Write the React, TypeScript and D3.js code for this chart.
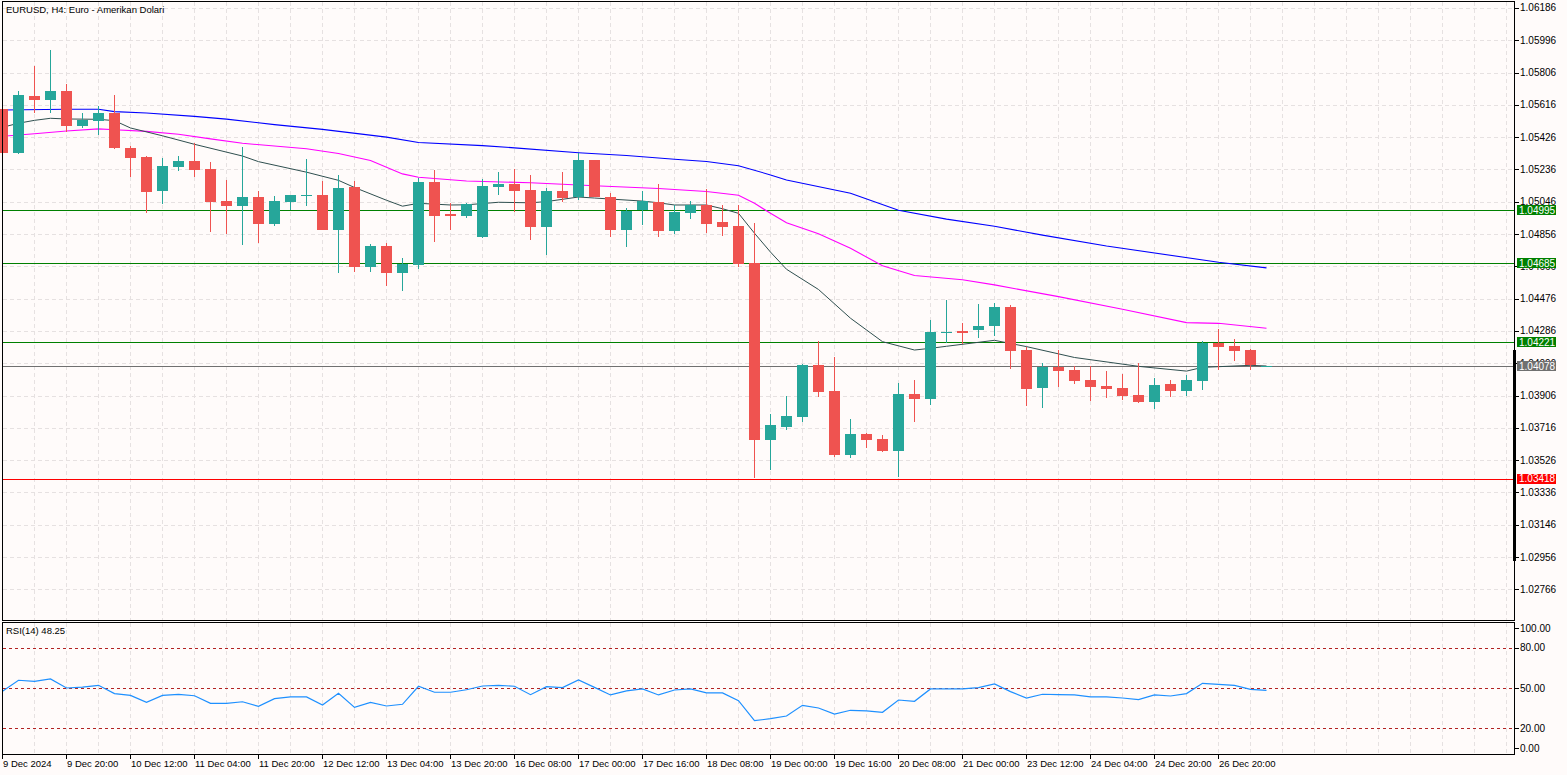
import React from 'react';
import * as d3 from 'd3';

const W = 1567;
const H = 775;

// EURUSD H4 candles
const opens = [
  1.05592, 1.05335, 1.05668, 1.05647, 1.057, 1.05494, 1.05523, 1.0557, 1.05364, 1.05311,
  1.05111, 1.05253, 1.05286, 1.05239, 1.05051, 1.05023, 1.05074, 1.04917, 1.05047, 1.05084,
  1.05086, 1.04882, 1.05133, 1.04664, 1.04786, 1.04629, 1.04676, 1.05163, 1.04974, 1.04962,
  1.04839, 1.05135, 1.05151, 1.05115, 1.04898, 1.05109, 1.05074, 1.05292, 1.05074, 1.0488,
  1.04996, 1.05045, 1.04874, 1.0498, 1.05027, 1.04927, 1.04904, 1.04688, 1.03645, 1.03721,
  1.0378, 1.04084, 1.03935, 1.03555, 1.0368, 1.03651, 1.0358, 1.03915, 1.03886, 1.04278,
  1.04286, 1.04292, 1.04317, 1.04427, 1.04174, 1.03952, 1.04072, 1.04056, 1.03998, 1.03962,
  1.03951, 1.0391, 1.0387, 1.03974, 1.03935, 1.03993, 1.04215, 1.04198, 1.04174, 1.04074,
];
const highs = [
  1.0561, 1.057, 1.05847, 1.05939, 1.05739, 1.0557, 1.0561, 1.05674, 1.05376, 1.05317,
  1.05304, 1.05317, 1.0539, 1.05278, 1.05174, 1.05368, 1.05109, 1.0508, 1.05086, 1.05298,
  1.0517, 1.05204, 1.0517, 1.04798, 1.04804, 1.04717, 1.05188, 1.05233, 1.05039, 1.05039,
  1.0518, 1.05221, 1.05239, 1.05204, 1.05127, 1.05221, 1.05335, 1.05292, 1.05098, 1.05009,
  1.05109, 1.05151, 1.05027, 1.05051, 1.05121, 1.05027, 1.05027, 1.04923, 1.03798, 1.03904,
  1.04092, 1.04225, 1.04135, 1.03768, 1.03686, 1.03674, 1.0398, 1.03998, 1.04351, 1.0447,
  1.04333, 1.04445, 1.04452, 1.04439, 1.04192, 1.04098, 1.04174, 1.0408, 1.0408, 1.04052,
  1.04033, 1.04098, 1.04009, 1.03998, 1.04027, 1.04225, 1.04298, 1.04239, 1.0418, 1.0408,
];
const lows = [
  1.05321, 1.05327, 1.05568, 1.0557, 1.05458, 1.05482, 1.05441, 1.05358, 1.05194, 1.04978,
  1.05035, 1.05229, 1.05194, 1.0487, 1.04858, 1.04794, 1.04806, 1.04905, 1.05, 1.05023,
  1.0488, 1.04629, 1.04635, 1.04635, 1.04553, 1.04523, 1.04652, 1.04811, 1.0488, 1.04953,
  1.04835, 1.05086, 1.04986, 1.04821, 1.04733, 1.05045, 1.05057, 1.05074, 1.04839, 1.0478,
  1.04909, 1.04839, 1.04857, 1.04945, 1.04862, 1.04845, 1.04662, 1.0342, 1.03468, 1.03704,
  1.03751, 1.03898, 1.03545, 1.03539, 1.03598, 1.03574, 1.03425, 1.03751, 1.03851, 1.04215,
  1.04209, 1.04245, 1.04258, 1.04064, 1.03847, 1.03835, 1.03958, 1.03976, 1.03876, 1.03894,
  1.03882, 1.03864, 1.03829, 1.039, 1.03906, 1.03941, 1.04058, 1.04111, 1.04058, 1.04074,
];
const closes = [
  1.05333, 1.05674, 1.05647, 1.057, 1.05494, 1.05527, 1.0557, 1.05364, 1.05305, 1.05105,
  1.05257, 1.05286, 1.05235, 1.05047, 1.05023, 1.05074, 1.04917, 1.05051, 1.05086, 1.05086,
  1.04882, 1.05127, 1.04664, 1.04786, 1.04629, 1.0468, 1.05163, 1.04964, 1.04962, 1.05033,
  1.05139, 1.05151, 1.05109, 1.04898, 1.05109, 1.05068, 1.05292, 1.05074, 1.0488, 1.04992,
  1.05051, 1.04874, 1.04986, 1.05027, 1.04915, 1.04898, 1.0468, 1.03645, 1.03733, 1.03786,
  1.04084, 1.03927, 1.03555, 1.0368, 1.03645, 1.0358, 1.03915, 1.03886, 1.0428, 1.0428,
  1.04274, 1.04317, 1.04429, 1.0417, 1.03946, 1.04072, 1.04052, 1.03993, 1.03958, 1.03946,
  1.03906, 1.0387, 1.03968, 1.03935, 1.03998, 1.04215, 1.04194, 1.0417, 1.04084, 1.04078,
];

// RSI(14), one value per bar
const rsi = [
  47.5, 55.8, 55, 56.8, 50, 50.7, 52, 45.8, 44.5, 39.2,
  44.5, 45.2, 44.2, 38.5, 38.5, 39.7, 36.2, 42, 43.3, 43.3,
  37.2, 46, 35.5, 39.2, 36.5, 37.8, 51.3, 46.8, 46.8, 48.7,
  51.5, 52, 51.3, 45, 51, 50.3, 56, 50.5, 44.8, 47.8,
  49.3, 44.8, 48.5, 49.3, 46.3, 46.3, 40.5, 25.5, 27, 29,
  37, 35, 30.5, 33.3, 32.8, 31.8, 41, 40, 49.3, 49.3,
  49.3, 50.3, 53, 47.3, 42.5, 45.3, 45, 44.8, 43.3, 43.3,
  42.5, 41.3, 44.8, 44, 45.8, 53.5, 52.7, 52, 49, 48.25,
];

// moving averages, [bar, price] read at the visible bends
const maSlow: [number, number][] = [
  [0, 1.05586], [4, 1.0559], [6, 1.0559], [7, 1.05576], [9, 1.05568], [12, 1.05548],
  [14, 1.05532], [17, 1.055], [20, 1.05472], [24, 1.05426], [26, 1.05395], [30, 1.05376],
  [32, 1.05363], [36, 1.05334], [39, 1.05318], [42, 1.05296], [44, 1.05283], [46, 1.05258],
  [48, 1.05204], [49, 1.05174], [53, 1.05096], [56, 1.04996], [59, 1.04944], [62, 1.04902],
  [65, 1.0485], [69, 1.04786], [76, 1.0469], [79, 1.04657],
];
const maMid: [number, number][] = [
  [0, 1.05431], [2, 1.05446], [4, 1.05462], [6, 1.05475], [7, 1.0547], [9, 1.0546],
  [11, 1.05443], [13, 1.05416], [15, 1.0539], [19, 1.05358], [21, 1.0533], [23, 1.05289],
  [25, 1.0521], [26, 1.0519], [29, 1.05168], [33, 1.05158], [37, 1.0514], [41, 1.05124],
  [44, 1.05106], [46, 1.05084], [47, 1.05037], [48, 1.04978], [49, 1.04923], [51, 1.04858],
  [53, 1.04772], [55, 1.0467], [57, 1.04612], [60, 1.04587], [62, 1.04557], [66, 1.04488],
  [70, 1.04414], [74, 1.04335], [76, 1.04331], [79, 1.04302],
];
const maFast: [number, number][] = [
  [0, 1.05484], [1, 1.05508], [2, 1.05525], [3, 1.05537], [4, 1.05533], [6, 1.05531],
  [7, 1.05523], [8, 1.0548], [10, 1.05434], [12, 1.05384], [15, 1.05315], [16, 1.05282],
  [19, 1.0522], [21, 1.05172], [22, 1.0513], [24, 1.05055], [25, 1.0502], [26, 1.05037],
  [28, 1.05027], [29, 1.05028], [31, 1.05043], [33, 1.0504], [34, 1.05047], [36, 1.05074],
  [37, 1.05068], [40, 1.0505], [41, 1.0504], [42, 1.05027], [44, 1.05027], [45, 1.05005],
  [46, 1.04978], [47, 1.04861], [48, 1.0475], [49, 1.04649], [51, 1.0453], [53, 1.04361],
  [55, 1.04223], [57, 1.04174], [58, 1.04184], [59, 1.04196], [62, 1.04231], [64, 1.04194],
  [67, 1.0413], [71, 1.04078], [74, 1.0405], [75, 1.04072], [78, 1.04084], [79, 1.0408],
];

const priceTicks = [
  '1.06186', '1.05996', '1.05806', '1.05616', '1.05426', '1.05236', '1.05046', '1.04856', '1.04666',
  '1.04476', '1.04286', '1.04096', '1.03906', '1.03716', '1.03526', '1.03336', '1.03146', '1.02956', '1.02766',
];
const hLines = [
  { price: 1.04995, color: '#008000' },
  { price: 1.04685, color: '#008000' },
  { price: 1.04221, color: '#008000' },
  { price: 1.04078, color: '#707070' },
  { price: 1.03418, color: '#ff0000' },
];
const timeLabels = [
  '9 Dec 2024', '9 Dec 20:00', '10 Dec 12:00', '11 Dec 04:00', '11 Dec 20:00', '12 Dec 12:00',
  '13 Dec 04:00', '13 Dec 20:00', '16 Dec 08:00', '17 Dec 00:00', '17 Dec 16:00', '18 Dec 08:00',
  '19 Dec 00:00', '19 Dec 16:00', '20 Dec 08:00', '21 Dec 00:00', '23 Dec 12:00', '24 Dec 04:00',
  '24 Dec 20:00', '26 Dec 20:00',
];
const rsiTicks = [100, 80, 50, 20, 0];
const rsiLevels = [80, 50, 20];

const BG = '#fffbfa';
const GRID = '#e6e1e1';
const BULL = '#26a69a';
const BEAR = '#ef5350';
const FONT = '"Liberation Sans", Arial, sans-serif';

export default function App() {
  const left = 2.5;
  const axisX = 1514.5;
  const mainTop = 1.5;
  const mainBottom = 620.5;
  const rsiTop = 622.5;
  const rsiBottom = 754.5;

  const x = d3.scaleLinear().domain([0, 79]).range([2.5, 1266.5]);
  const y = d3.scaleLinear().domain([1.02586, 1.06221]).range([620, 2]);
  const yr = d3.scaleLinear().domain([0, 100]).range([754.7, 621.3]);

  const line = d3
    .line<[number, number]>()
    .x((d) => x(d[0]))
    .y((d) => y(d[1]));
  const rsiLine = d3
    .line<number>()
    .x((_, i) => x(i))
    .y((d) => yr(d));

  const crisp = (v: number) => Math.round(v) + 0.5;
  const gridBars = d3.range(2, 96, 2);
  // labels at 0 and 100 are pulled inside the panel
  const rsiLabelY = (v: number) => Math.max(628, Math.min(748, yr(v)));
  // a tick label fully hidden behind a level label is not drawn
  const hidden = (t: string) => hLines.some((h) => Math.abs(y(h.price) - y(+t)) < 2.5);

  return (
    <svg
      width={W}
      height={H}
      style={{ position: 'absolute', left: 0, top: 0, display: 'block', background: BG }}
      fontFamily={FONT}
    >
      <rect x={0} y={0} width={W} height={H} fill={BG} />

      {/* grid */}
      <g stroke={GRID} strokeWidth={1} strokeDasharray="4,3" shapeRendering="crispEdges">
        {gridBars.map((b) => (
          <line key={'vm' + b} x1={x(b)} x2={x(b)} y1={mainTop} y2={mainBottom} />
        ))}
        {gridBars.map((b) => (
          <line key={'vr' + b} x1={x(b)} x2={x(b)} y1={rsiTop} y2={rsiBottom} />
        ))}
        {priceTicks.map((t) => (
          <line key={'h' + t} x1={left} x2={axisX} y1={crisp(y(+t))} y2={crisp(y(+t))} />
        ))}
      </g>

      {/* horizontal levels */}
      {hLines.map((h) => (
        <line
          key={'l' + h.price}
          x1={left}
          x2={axisX}
          y1={crisp(y(h.price))}
          y2={crisp(y(h.price))}
          stroke={h.color}
          strokeWidth={1}
          shapeRendering="crispEdges"
        />
      ))}

      {/* moving averages */}
      <path d={line(maSlow) || ''} fill="none" stroke="#0000ff" strokeWidth={1.1} />
      <path d={line(maMid) || ''} fill="none" stroke="#ff00ff" strokeWidth={1.1} />
      <path d={line(maFast) || ''} fill="none" stroke="#2f4f4f" strokeWidth={1} />

      {/* candles */}
      <g shapeRendering="crispEdges">
        {opens.map((o, i) => {
          const c = closes[i];
          const col = c >= o ? BULL : BEAR;
          const top = Math.round(y(Math.max(o, c)));
          const bot = Math.round(y(Math.min(o, c)));
          return (
            <g key={'c' + i}>
              <line
                x1={x(i)}
                x2={x(i)}
                y1={Math.round(y(highs[i]))}
                y2={Math.round(y(lows[i]))}
                stroke={col}
                strokeWidth={1}
              />
              <rect x={x(i) - 5.5} y={top} width={11} height={Math.max(1, bot - top)} fill={col} />
            </g>
          );
        })}
      </g>

      {/* RSI panel */}
      <g stroke="#b22222" strokeWidth={1} strokeDasharray="3,3" shapeRendering="crispEdges">
        {rsiLevels.map((v) => (
          <line key={'rl' + v} x1={left} x2={axisX} y1={crisp(yr(v))} y2={crisp(yr(v))} />
        ))}
      </g>
      <path d={rsiLine(rsi) || ''} fill="none" stroke="#1e90ff" strokeWidth={1.2} />

      {/* frames */}
      <g fill="none" stroke="#000" strokeWidth={1} shapeRendering="crispEdges">
        <rect x={left} y={mainTop} width={axisX - left} height={mainBottom - mainTop} />
        <rect x={left} y={rsiTop} width={axisX - left} height={rsiBottom - rsiTop} />
      </g>
      <rect x={1513} y={350} width={3} height={211} fill="#000" />

      {/* price axis */}
      <g fontSize={10} fill="#000">
        {priceTicks.map((t) => (
          <g key={'pt' + t}>
            <line x1={axisX} x2={axisX + 4} y1={crisp(y(+t))} y2={crisp(y(+t))} stroke="#000" shapeRendering="crispEdges" />
            {!hidden(t) && (
              <text x={1520} y={y(+t)} dy="0.35em">
                {t}
              </text>
            )}
          </g>
        ))}
      </g>
      {hLines.map((h) => (
        <g key={'lab' + h.price}>
          <rect x={1517} y={Math.round(y(h.price)) - 5} width={39} height={10} fill={h.color} />
          <text x={1519} y={y(h.price)} dy="0.36em" fontSize={10} fill="#fff">
            {h.price.toFixed(5)}
          </text>
        </g>
      ))}

      {/* RSI axis */}
      <g fontSize={10} fill="#000">
        {rsiTicks.map((v) => (
          <g key={'rt' + v}>
            <line
              x1={axisX}
              x2={axisX + 4}
              y1={crisp(rsiLabelY(v))}
              y2={crisp(rsiLabelY(v))}
              stroke="#000"
              shapeRendering="crispEdges"
            />
            <text x={1520} y={rsiLabelY(v)} dy="0.35em">
              {v.toFixed(2)}
            </text>
          </g>
        ))}
      </g>

      {/* time axis */}
      <g fontSize={9.5} fill="#000">
        {timeLabels.map((t, k) => (
          <g key={'tl' + t}>
            <line x1={x(k * 4)} x2={x(k * 4)} y1={rsiBottom} y2={rsiBottom + 4} stroke="#000" shapeRendering="crispEdges" />
            <text x={x(k * 4) + 0.5} y={767}>
              {t}
            </text>
          </g>
        ))}
      </g>

      {/* titles */}
      <text x={6} y={13} fontSize={9.5} fill="#000">
        EURUSD, H4:  Euro - Amerikan Dolari
      </text>
      <text x={6} y={634} fontSize={9.5} fill="#000">
        RSI(14) 48.25
      </text>
    </svg>
  );
}
